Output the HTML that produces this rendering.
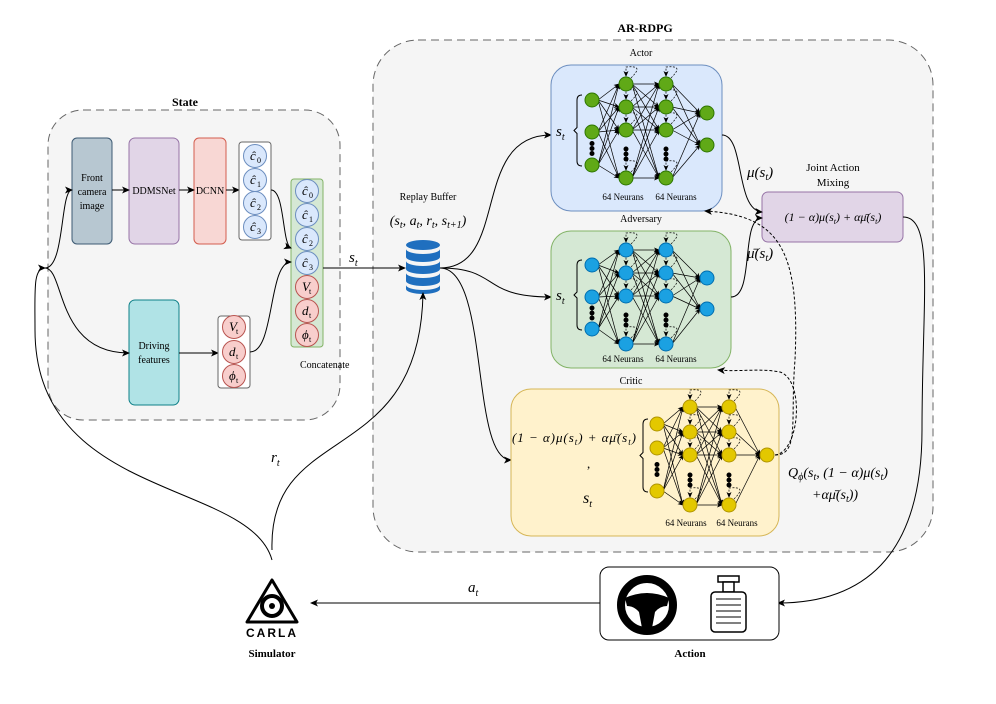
<!DOCTYPE html>
<html><head><meta charset="utf-8"><style>
html,body{margin:0;padding:0;background:#fff}
svg{display:block;font-family:"Liberation Serif",serif}
</style></head><body>
<svg id="s" width="996" height="704" viewBox="0 0 996 704" xmlns="http://www.w3.org/2000/svg">
<defs>
<marker id="a" markerWidth="8" markerHeight="8" refX="7" refY="4" orient="auto" markerUnits="userSpaceOnUse"><path d="M0,0.5 L8,4 L0,7.5 L2,4 z" fill="#000"/></marker>
<marker id="sa" markerWidth="6" markerHeight="6" refX="5" refY="3" orient="auto" markerUnits="userSpaceOnUse"><path d="M0,0.5 L6,3 L0,5.5 L1.5,3 z" fill="#000"/></marker>
</defs>
<rect x="373" y="40" width="560" height="512" rx="45" fill="#f5f5f5" stroke="#666" stroke-dasharray="8,5" stroke-width="1"/>
<text x="645" y="32" font-size="12" font-weight="bold" text-anchor="middle">AR-RDPG</text>
<rect x="48" y="110" width="292" height="310" rx="35" fill="#f5f5f5" stroke="#666" stroke-dasharray="8,5" stroke-width="1"/>
<text x="185" y="106" font-size="12" font-weight="bold" text-anchor="middle">State</text>

<rect x="72" y="138" width="40" height="106" rx="5" fill="#b7c7d1" stroke="#3d5a73"/>
<text font-size="10" text-anchor="middle"><tspan x="92" y="181">Front</tspan><tspan x="92" y="195">camera</tspan><tspan x="92" y="209">image</tspan></text>
<rect x="129" y="138" width="50" height="106" rx="6" fill="#e1d5e7" stroke="#9673a6"/>
<text x="154" y="194" font-size="10" text-anchor="middle">DDMSNet</text>
<rect x="194" y="138" width="32" height="106" rx="5" fill="#f8d7d4" stroke="#d35d4e"/>
<text x="210" y="194" font-size="10" text-anchor="middle">DCNN</text>
<rect x="129" y="300" width="50" height="105" rx="6" fill="#b0e3e6" stroke="#0e8088"/>
<text font-size="10" text-anchor="middle"><tspan x="154" y="349">Driving</tspan><tspan x="154" y="363">features</tspan></text>
<line x1="112" y1="190" x2="129" y2="190" stroke="#000" marker-end="url(#a)"/>
<line x1="179" y1="190" x2="194" y2="190" stroke="#000" marker-end="url(#a)"/>
<line x1="226" y1="190" x2="239" y2="190" stroke="#000" marker-end="url(#a)"/>
<line x1="179" y1="353" x2="218" y2="353" stroke="#000" marker-end="url(#a)"/>

<rect x="239" y="142" width="32" height="98" rx="3" fill="#fff" stroke="#666"/>
<rect x="291" y="179" width="32" height="168" rx="3" fill="#d5e8d4" stroke="#82b366"/>
<rect x="218" y="316" width="32" height="72" rx="3" fill="#fff" stroke="#666"/>
<text x="300" y="368" font-size="10">Concatenate</text>
<g id="cs"></g>

<path d="M271,190 C285,190 282,245 291,248" fill="none" stroke="#000" marker-end="url(#a)"/>
<path d="M250,352 C275,352 268,262 291,262" fill="none" stroke="#000" marker-end="url(#a)"/>
<path d="M45,268 C65,268 60,190 72,190" fill="none" stroke="#000" marker-end="url(#a)"/>
<path d="M45,268 C65,268 55,353 129,353" fill="none" stroke="#000" marker-end="url(#a)"/>
<path d="M272,560 C250,480 35,500 35,330 C35,290 33,268 45,268" fill="none" stroke="#000" marker-end="url(#a)"/>

<text x="428" y="200" font-size="10" text-anchor="middle">Replay Buffer</text>
<text x="428" y="225" font-size="14" text-anchor="middle" font-style="italic">(s<tspan font-size="10" dy="3">t</tspan><tspan dy="-3">, a</tspan><tspan font-size="10" dy="3">t</tspan><tspan dy="-3">, r</tspan><tspan font-size="10" dy="3">t</tspan><tspan dy="-3">, s</tspan><tspan font-size="10" dy="3">t+1</tspan><tspan dy="-3">)</tspan></text>
<g fill="#1f6fbf">
<ellipse cx="423" cy="245" rx="17" ry="5"/>
<path d="M406,249 a17,5 0 0 0 34,0 v8 a17,5 0 0 1 -34,0z"/>
<path d="M406,261 a17,5 0 0 0 34,0 v8 a17,5 0 0 1 -34,0z"/>
<path d="M406,273 a17,5 0 0 0 34,0 v8 a17,5 0 0 1 -34,0z"/>
<path d="M406,285 a17,5 0 0 0 34,0 v4 a17,5 0 0 1 -34,0z"/>
</g>
<line x1="323" y1="268" x2="405" y2="268" stroke="#000" marker-end="url(#a)"/>
<text x="349" y="262" font-size="15" font-style="italic">s<tspan font-size="10" dy="4">t</tspan></text>
<path d="M272,550 C268,420 420,470 423,293" fill="none" stroke="#000" marker-end="url(#a)"/>
<text x="271" y="462" font-size="15" font-style="italic">r<tspan font-size="10" dy="4">t</tspan></text>

<path d="M440,268 C510,268 470,135 551,135" fill="none" stroke="#000" marker-end="url(#a)"/>
<path d="M440,268 C500,268 480,297 551,297" fill="none" stroke="#000" marker-end="url(#a)"/>
<path d="M440,268 C490,268 470,460 511,460" fill="none" stroke="#000" marker-end="url(#a)"/>

<rect x="551" y="65" width="171" height="146" rx="20" fill="#dae8fc" stroke="#6c8ebf"/>
<text x="641" y="56" font-size="10" text-anchor="middle">Actor</text>
<rect x="551" y="231" width="180" height="137" rx="20" fill="#d5e8d4" stroke="#82b366"/>
<text x="641" y="222" font-size="10" text-anchor="middle">Adversary</text>
<rect x="511" y="389" width="268" height="147" rx="20" fill="#fff2cc" stroke="#d6b656"/>
<text x="631" y="384" font-size="10" text-anchor="middle">Critic</text>
<g id="nets"></g>
<text font-size="9" text-anchor="middle"><tspan x="623" y="200">64 Neurans</tspan><tspan x="676" y="200">64 Neurans</tspan></text>
<text font-size="9" text-anchor="middle"><tspan x="623" y="362">64 Neurans</tspan><tspan x="676" y="362">64 Neurans</tspan></text>
<text font-size="9" text-anchor="middle"><tspan x="686" y="526">64 Neurans</tspan><tspan x="737" y="526">64 Neurans</tspan></text>
<text x="556" y="136" font-size="15" font-style="italic">s<tspan font-size="10" dy="4">t</tspan></text>
<text x="556" y="300" font-size="15" font-style="italic">s<tspan font-size="10" dy="4">t</tspan></text>
<text x="512" y="442" font-size="13" font-style="italic" textLength="124">(1 − α)μ(s<tspan font-size="9" dy="3">t</tspan><tspan dy="-3">) + α</tspan>μ̄(s<tspan font-size="9" dy="3">t</tspan><tspan dy="-3">)</tspan></text>
<text x="587" y="468" font-size="13">,</text>
<text x="583" y="503" font-size="16" font-style="italic">s<tspan font-size="10" dy="4">t</tspan></text>

<rect x="762" y="192" width="141" height="50" rx="6" fill="#e1d5e7" stroke="#9673a6"/>
<text font-size="11" text-anchor="middle"><tspan x="833" y="171">Joint Action</tspan><tspan x="833" y="186">Mixing</tspan></text>
<text x="833" y="221" font-size="12" text-anchor="middle" font-style="italic">(1 − α)μ(s<tspan font-size="8" dy="3">t</tspan><tspan dy="-3">) + α</tspan>μ̄(s<tspan font-size="8" dy="3">t</tspan><tspan dy="-3">)</tspan></text>
<text x="747" y="177" font-size="15" font-style="italic">μ(s<tspan font-size="10" dy="3">t</tspan><tspan dy="-3">)</tspan></text>
<text x="747" y="258" font-size="15" font-style="italic">μ̄(s<tspan font-size="10" dy="3">t</tspan><tspan dy="-3">)</tspan></text>
<path d="M722,135 C745,135 735,210 762,212" fill="none" stroke="#000" marker-end="url(#a)"/>
<path d="M731,297 C755,297 740,218 762,218" fill="none" stroke="#000" marker-end="url(#a)"/>
<path d="M775,455 C800,455 790,420 795,360 C800,250 780,215 705,211" fill="none" stroke="#000" stroke-dasharray="3,2" marker-end="url(#a)"/>
<path d="M775,455 C800,452 805,380 780,372 C760,368 740,372 718,370" fill="none" stroke="#000" stroke-dasharray="3,2" marker-end="url(#a)"/>
<text x="788" y="477" font-size="14" font-style="italic">Q<tspan font-size="10" dy="3">ϕ</tspan><tspan dy="-3">(s</tspan><tspan font-size="10" dy="3">t</tspan><tspan dy="-3">, (1 − α)μ(s</tspan><tspan font-size="10" dy="3">t</tspan><tspan dy="-3">)</tspan></text>
<text x="812" y="499" font-size="14" font-style="italic">+αμ̄(s<tspan font-size="10" dy="3">t</tspan><tspan dy="-3">))</tspan></text>
<path d="M903,217 C935,217 922,300 922,430 C922,560 860,603 778,603" fill="none" stroke="#000" marker-end="url(#a)"/>

<rect x="600" y="567" width="179" height="73" rx="9" fill="#fff" stroke="#000"/>
<text x="690" y="657" font-size="11" font-weight="bold" text-anchor="middle">Action</text>
<circle cx="647" cy="605" r="26" fill="none" stroke="#000" stroke-width="8"/>
<path d="M625,598 Q647,588 669,598 L667,606 Q660,606 655,612 L652,628 L642,628 L639,612 Q634,606 627,606z" fill="#000"/>
<rect x="718" y="576" width="21" height="6" fill="#fff" stroke="#000" stroke-width="1.5"/>
<rect x="723" y="582" width="11" height="10" fill="#fff" stroke="#000" stroke-width="1.5"/>
<rect x="711" y="592" width="35" height="40" rx="4" fill="#fff" stroke="#000" stroke-width="1.5"/>
<g stroke="#000"><line x1="716" y1="599" x2="741" y2="599"/><line x1="716" y1="605" x2="741" y2="605"/><line x1="716" y1="611" x2="741" y2="611"/><line x1="716" y1="617" x2="741" y2="617"/><line x1="716" y1="623" x2="741" y2="623"/></g>
<line x1="600" y1="603" x2="311" y2="603" stroke="#000" marker-end="url(#a)"/>
<text x="468" y="592" font-size="15" font-style="italic">a<tspan font-size="10" dy="4">t</tspan></text>

<path d="M272,580 L297,622 L247,622 Z" fill="none" stroke="#000" stroke-width="3" stroke-linejoin="round"/>
<circle cx="272" cy="606" r="10" fill="none" stroke="#000" stroke-width="4"/>
<circle cx="272" cy="606" r="3" fill="#000"/>
<text x="272" y="637" font-size="12" font-weight="bold" text-anchor="middle" font-family="Liberation Sans,sans-serif" letter-spacing="2">CARLA</text>
<text x="272" y="657" font-size="11" font-weight="bold" text-anchor="middle">Simulator</text>
</svg>
<script>
var NS="http://www.w3.org/2000/svg";
function el(p,t,a){var e=document.createElementNS(NS,t);for(var k in a)e.setAttribute(k,a[k]);p.appendChild(e);return e;}
var cs=document.getElementById("cs");
function circ(x,y,fill,stroke,lab,sub){el(cs,"circle",{cx:x,cy:y,r:11.5,fill:fill,stroke:stroke});
var t=el(cs,"text",{x:x-5,y:y+4,"font-size":13,"font-style":"italic"});t.textContent=lab;
var s=el(cs,"text",{x:x+2,y:y+7,"font-size":8});s.textContent=sub;}
var B="#dae8fc",BS="#6c8ebf",R="#f8cecc",RS="#b85450";
[156,180,203,227].forEach(function(y,i){circ(255,y,B,BS,"ĉ",i);});
[191,215,239,263].forEach(function(y,i){circ(307,y,B,BS,"ĉ",i);});
[["V",287],["d",311],["ϕ",335]].forEach(function(a){circ(307,a[1],R,RS,a[0],"t");});
[["V",327],["d",352],["ϕ",376]].forEach(function(a){circ(234,a[1],R,RS,a[0],"t");});
var g=document.getElementById("nets");
function net(inX,inY,h1X,h2X,hY,outX,outY,fill,stroke,brX){
 var L1=inY.map(function(y){return[inX,y]}),L2=hY.map(function(y){return[h1X,y]}),L3=hY.map(function(y){return[h2X,y]}),L4=outY.map(function(y){return[outX,y]});
 [[L1,L2],[L2,L3],[L3,L4]].forEach(function(p){p[0].forEach(function(a){p[1].forEach(function(b){el(g,"line",{x1:a[0]+6,y1:a[1],x2:b[0]-7,y2:b[1],stroke:"#000","stroke-width":0.7,"marker-end":"url(#sa)"});});});});
 [L2,L3].forEach(function(L){L.forEach(function(n){el(g,"path",{d:"M"+(n[0]+5)+","+(n[1]-6)+" C"+(n[0]+15)+","+(n[1]-16)+" "+(n[0]+12)+","+(n[1]-18)+" "+n[0]+","+(n[1]-17)+" L"+n[0]+","+(n[1]-8),fill:"none",stroke:"#000","stroke-width":0.7,"stroke-dasharray":"2,1.5","marker-end":"url(#sa)"});});});
 [L1,L2,L3,L4].forEach(function(L){L.forEach(function(n){el(g,"circle",{cx:n[0],cy:n[1],r:7,fill:fill,stroke:stroke});});});
 var dy1=(inY[1]+inY[2])/2, dy2=(hY[2]+hY[3])/2;
 [[inX,dy1],[h1X,dy2],[h2X,dy2]].forEach(function(d){for(var i=-1;i<=1;i++)el(g,"circle",{cx:d[0],cy:d[1]+i*5,r:2.5,fill:"#000"});});
 el(g,"path",{d:"M"+(brX+5)+","+(inY[0]-5)+" q-5,0 -5,5 v"+((inY[2]-inY[0])/2-5)+" l-3,3 l3,3 v"+((inY[2]-inY[0])/2-5)+" q0,5 5,5",fill:"none",stroke:"#000","stroke-width":1});
}
net(592,[100,132,165],626,666,[84,107,130,178],707,[113,145],"#60a917","#2d7600",577);
net(592,[265,297,329],626,666,[250,273,296,344],707,[278,309],"#1ba1e2","#006eaf",577);
net(657,[424,448,491],690,729,[407,432,455,505],767,[455],"#e3c800","#b09500",643);
</script>
</body></html>
